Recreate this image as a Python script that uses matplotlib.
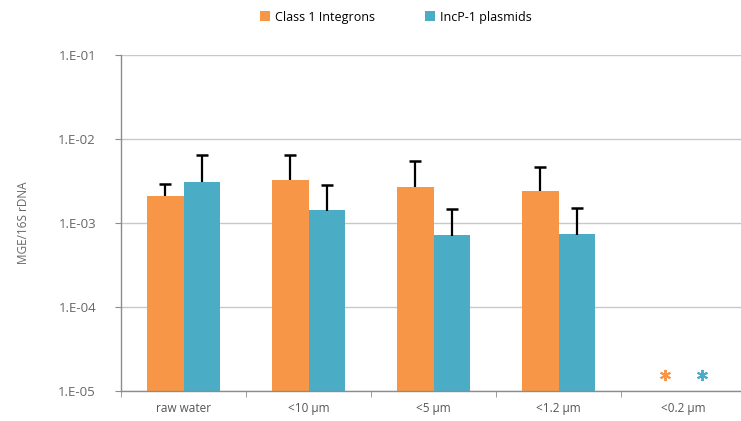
import matplotlib
matplotlib.use("Agg")
import matplotlib.pyplot as plt
import numpy as np

plt.rcParams['font.family'] = ['Open Sans', 'DejaVu Sans']

categories = ["raw water", "<10 µm", "<5 µm", "<1.2 µm", "<0.2 µm"]
series_names = ["Class 1 Integrons", "IncP-1 plasmids"]
integrons = [2.1e-3, 3.25e-3, 2.7e-3, 2.4e-3, np.nan]
integrons_err_top = [2.95e-3, 6.5e-3, 5.4e-3, 4.6e-3, np.nan]
plasmids = [3.1e-3, 1.4e-3, 7.0e-4, 7.2e-4, np.nan]
plasmids_err_top = [6.5e-3, 2.8e-3, 1.46e-3, 1.5e-3, np.nan]
# markers for samples below detection (<0.2 µm)
below_detection_cat = 4
below_detection_val = 1.55e-5

c_orange = "#F79646"
c_blue = "#4BACC6"
grey = "#8c8c8c"

fig = plt.figure(figsize=(7.41, 4.21), dpi=100)
W, H = 741, 421
ax = fig.add_axes([121 / W, 1 - 391 / H, 625 / W, (391 - 55) / H])

x = np.arange(len(categories))
bw = 0.29
vals = [integrons, plasmids]
errs = [integrons_err_top, plasmids_err_top]
cols = [c_orange, c_blue]
offs = [-bw / 2, bw / 2]
for v, e, c, o, n in zip(vals, errs, cols, offs, series_names):
    v = np.array(v, dtype=float)
    e = np.array(e, dtype=float)
    m = ~np.isnan(v)
    ax.bar(x[m] + o, v[m], width=bw, color=c, bottom=1e-5, zorder=2, label=n)
    up = e[m] - v[m]
    ax.errorbar(x[m] + o, v[m], yerr=[np.zeros_like(up), up], fmt='none',
                ecolor='black', elinewidth=1.6, capsize=0, zorder=3)
    ax.plot(x[m] + o, e[m], linestyle='none', marker='_', markersize=8,
            markeredgewidth=1.8, color='black', zorder=3)
    ax.plot([below_detection_cat + o], [below_detection_val], linestyle='none',
            marker=(6, 2, 0), markersize=8, markeredgewidth=1.4,
            color=c, markeredgecolor=c, zorder=3)

ax.set_yscale('log')
ax.set_ylim(1e-5, 1e-1)
ax.set_xlim(-0.5, 4.5)
ax.set_yticks([1e-5, 1e-4, 1e-3, 1e-2, 1e-1])
ax.set_yticklabels(["1.E-05", "1.E-04", "1.E-03", "1.E-02", "1.E-01"])
ax.yaxis.set_minor_locator(matplotlib.ticker.NullLocator())
ax.grid(axis='y', color='#c8c8c8', linewidth=1, zorder=0)
ax.set_axisbelow(True)

ax.set_xticks(x)
ax.set_xticklabels(categories)
ax.set_xticks(np.arange(-0.5, 5.0, 1.0), minor=True)
ax.tick_params(axis='x', which='major', length=0, pad=8, labelsize=8.5, labelcolor='#555555')
ax.tick_params(axis='x', which='minor', length=4, color=grey, direction='out')
ax.tick_params(axis='y', which='major', length=4, color=grey, direction='out',
               labelsize=9.5, labelcolor='#666666', pad=14)

for s in ['top', 'right']:
    ax.spines[s].set_visible(False)
for s in ['left', 'bottom']:
    ax.spines[s].set_color(grey)
    ax.spines[s].set_linewidth(1)

ax.set_ylabel("MGE/16S rDNA", fontsize=8.5, color='#666666', labelpad=20)

handles, labels = ax.get_legend_handles_labels()
fig.legend(handles, labels, loc='center', bbox_to_anchor=(0.534, 1 - 17 / H), ncol=2,
           frameon=False, fontsize=9, handlelength=0.8, handleheight=0.8,
           handletextpad=0.4, columnspacing=4.0)

fig.savefig("out.png", dpi=100)
